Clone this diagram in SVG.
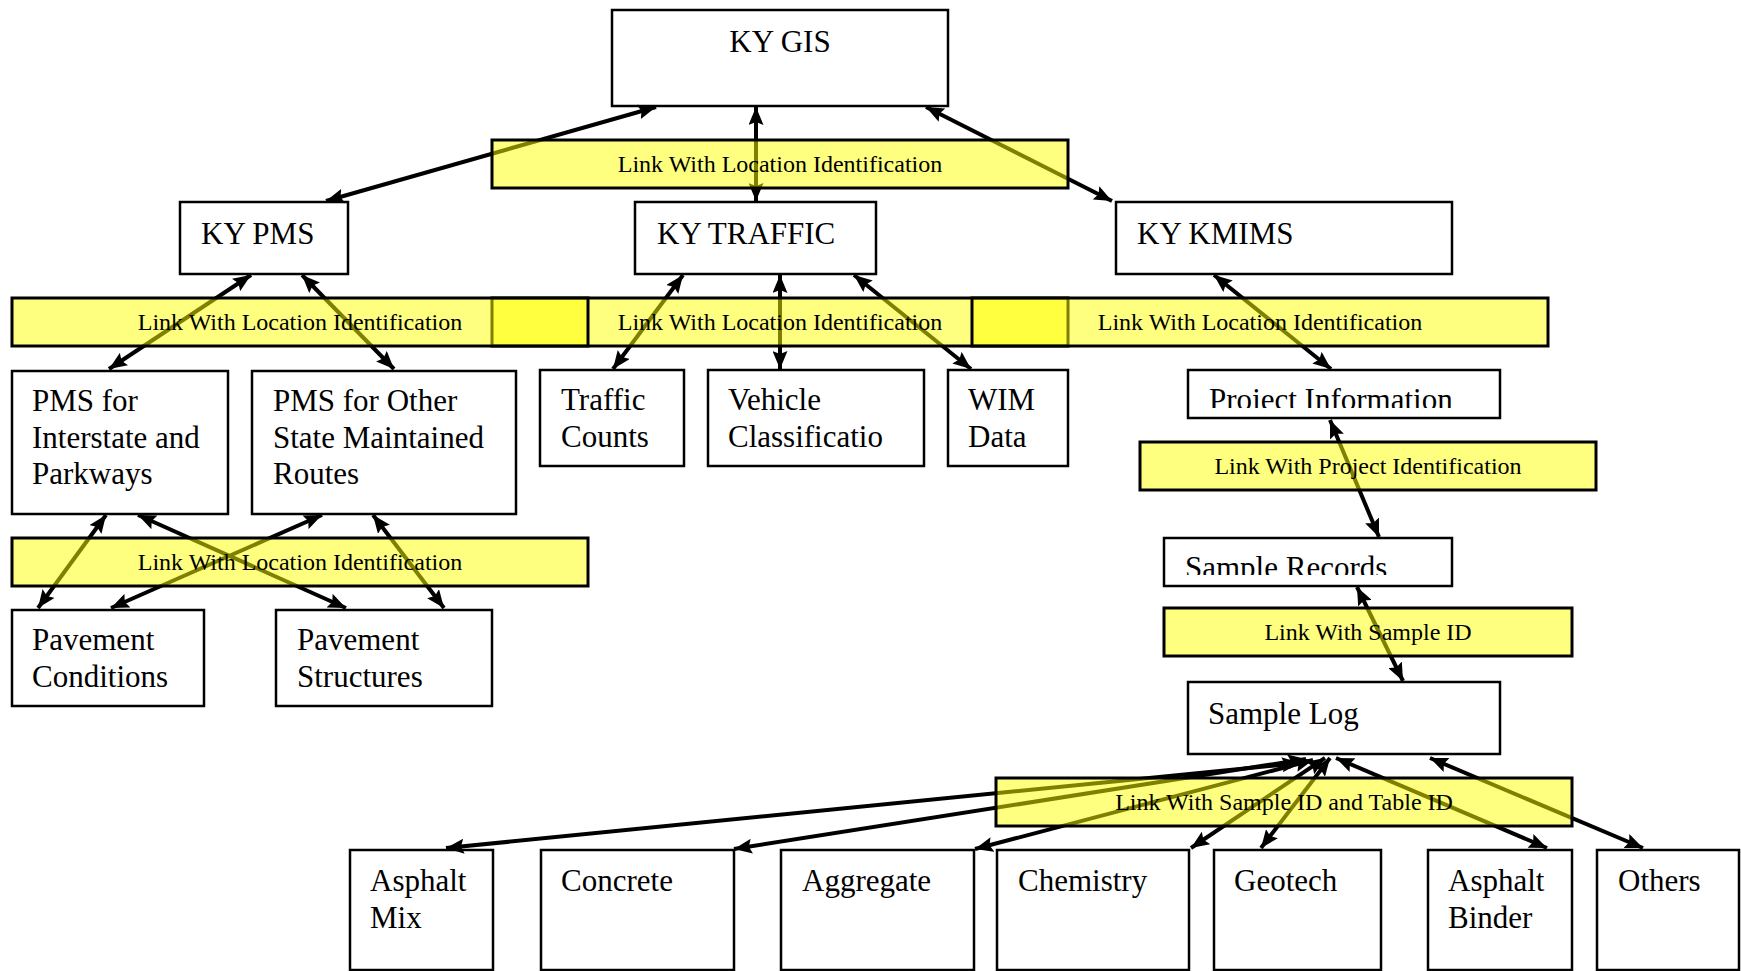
<svg xmlns="http://www.w3.org/2000/svg" width="1741" height="971" viewBox="0 0 1741 971">
<style>
.box{fill:#fff;stroke:#000;stroke-width:2.5}
.band{fill:#ffff00;fill-opacity:0.5;stroke:#000;stroke-width:3}
.t{font-family:"Liberation Serif","Times New Roman",serif;font-size:31px;fill:#000}
.bt{font-family:"Liberation Serif","Times New Roman",serif;font-size:24px;fill:#000;text-anchor:middle}
.c{fill:none;stroke:#000;stroke-width:4;marker-start:url(#ah);marker-end:url(#ah)}
</style>
<defs>
<marker id="ah" markerUnits="userSpaceOnUse" viewBox="0 0 18 15" markerWidth="18" markerHeight="15" refX="18" refY="7.5" orient="auto-start-reverse">
<path d="M0,0 L18,7.5 L0,15 L3,7.5 z" fill="#000"/>
</marker>
<clipPath id="clipPI"><rect x="1188" y="370" width="312" height="38"/></clipPath>
<clipPath id="clipSR"><rect x="1164" y="538" width="288" height="37"/></clipPath>
</defs>
<rect width="1741" height="971" fill="#fff"/>

<g id="ky-gis"><rect class="box" x="612" y="10" width="336" height="96"/><text class="t" x="780" y="52" text-anchor="middle">KY GIS</text></g>
<g id="ky-pms"><rect class="box" x="180" y="202" width="168" height="72"/><text class="t" x="201" y="244">KY PMS</text></g>
<g id="ky-traffic"><rect class="box" x="635" y="202" width="241" height="72"/><text class="t" x="657" y="244">KY TRAFFIC</text></g>
<g id="ky-kmims"><rect class="box" x="1116" y="202" width="336" height="72"/><text class="t" x="1137" y="244">KY KMIMS</text></g>

<g id="pms-interstate"><rect class="box" x="12" y="371" width="216" height="143"/><text class="t" x="32" y="411">PMS for</text><text class="t" x="32" y="448">Interstate and</text><text class="t" x="32" y="484">Parkways</text></g>
<g id="pms-other"><rect class="box" x="252" y="371" width="264" height="143"/><text class="t" x="273" y="411">PMS for Other</text><text class="t" x="273" y="448">State Maintained</text><text class="t" x="273" y="484">Routes</text></g>
<g id="traffic-counts"><rect class="box" x="540" y="370" width="144" height="96"/><text class="t" x="561" y="410">Traffic</text><text class="t" x="561" y="447">Counts</text></g>
<g id="vehicle-class"><rect class="box" x="708" y="370" width="216" height="96"/><text class="t" x="728" y="410">Vehicle</text><text class="t" x="728" y="447">Classificatio</text></g>
<g id="wim-data"><rect class="box" x="948" y="370" width="120" height="96"/><text class="t" x="968" y="410">WIM</text><text class="t" x="968" y="447">Data</text></g>

<g id="project-info"><rect class="box" x="1188" y="370" width="312" height="48"/><text class="t" x="1209" y="410" clip-path="url(#clipPI)">Project Information</text></g>
<g id="sample-records"><rect class="box" x="1164" y="538" width="288" height="48"/><text class="t" x="1185" y="578" clip-path="url(#clipSR)">Sample Records</text></g>
<g id="sample-log"><rect class="box" x="1188" y="682" width="312" height="72"/><text class="t" x="1208" y="724">Sample Log</text></g>

<g id="pavement-conditions"><rect class="box" x="12" y="610" width="192" height="96"/><text class="t" x="32" y="650">Pavement</text><text class="t" x="32" y="687">Conditions</text></g>
<g id="pavement-structures"><rect class="box" x="276" y="610" width="216" height="96"/><text class="t" x="297" y="650">Pavement</text><text class="t" x="297" y="687">Structures</text></g>

<g id="asphalt-mix"><rect class="box" x="350" y="850" width="143" height="120"/><text class="t" x="370" y="891">Asphalt</text><text class="t" x="370" y="928">Mix</text></g>
<g id="concrete"><rect class="box" x="541" y="850" width="193" height="120"/><text class="t" x="561" y="891">Concrete</text></g>
<g id="aggregate"><rect class="box" x="781" y="850" width="193" height="120"/><text class="t" x="802" y="891">Aggregate</text></g>
<g id="chemistry"><rect class="box" x="997" y="850" width="192" height="120"/><text class="t" x="1018" y="891">Chemistry</text></g>
<g id="geotech"><rect class="box" x="1214" y="850" width="167" height="120"/><text class="t" x="1234" y="891">Geotech</text></g>
<g id="asphalt-binder"><rect class="box" x="1428" y="850" width="144" height="120"/><text class="t" x="1448" y="891">Asphalt</text><text class="t" x="1448" y="928">Binder</text></g>
<g id="others"><rect class="box" x="1597" y="850" width="142" height="120"/><text class="t" x="1618" y="891">Others</text></g>

<g id="connectors">
<line class="c" x1="656" y1="107" x2="326" y2="201"/>
<line class="c" x1="756" y1="107" x2="756" y2="201"/>
<line class="c" x1="926" y1="107" x2="1112" y2="201"/>
<line class="c" x1="251" y1="275" x2="109" y2="369"/>
<line class="c" x1="302" y1="275" x2="394" y2="369"/>
<line class="c" x1="683" y1="275" x2="613" y2="369"/>
<line class="c" x1="780" y1="275" x2="780" y2="369"/>
<line class="c" x1="854" y1="275" x2="971" y2="369"/>
<line class="c" x1="1214" y1="275" x2="1331" y2="369"/>
<line class="c" x1="1330" y1="420" x2="1379" y2="537"/>
<line class="c" x1="1357" y1="587" x2="1403" y2="681"/>
<line class="c" x1="106" y1="515" x2="38" y2="608"/>
<line class="c" x1="138" y1="515" x2="346" y2="608"/>
<line class="c" x1="322" y1="515" x2="111" y2="608"/>
<line class="c" x1="373" y1="515" x2="444" y2="608"/>
<line class="c" x1="1300" y1="763" x2="446" y2="848"/>
<line class="c" x1="1306" y1="759" x2="734" y2="849"/>
<line class="c" x1="1313" y1="760" x2="975" y2="849"/>
<line class="c" x1="1325" y1="758" x2="1191" y2="848"/>
<line class="c" x1="1330" y1="758" x2="1261" y2="848"/>
<line class="c" x1="1336" y1="758" x2="1547" y2="848"/>
<line class="c" x1="1430" y1="758" x2="1643" y2="848"/>
</g>

<g id="band-top"><rect class="band" x="492" y="140" width="576" height="48"/><text class="bt" x="780" y="172">Link With Location Identification</text></g>
<g id="band-mid-b"><rect class="band" x="492" y="298" width="576" height="48"/></g>
<g id="band-mid-a"><rect class="band" x="12" y="298" width="576" height="48"/></g>
<g id="band-mid-c"><rect class="band" x="972" y="298" width="576" height="48"/></g>
<g id="band-mid-texts"><text class="bt" x="300" y="330">Link With Location Identification</text><text class="bt" x="780" y="330">Link With Location Identification</text><text class="bt" x="1260" y="330">Link With Location Identification</text></g>
<g id="band-low-left"><rect class="band" x="12" y="538" width="576" height="48"/><text class="bt" x="300" y="570">Link With Location Identification</text></g>
<g id="band-project"><rect class="band" x="1140" y="442" width="456" height="48"/><text class="bt" x="1368" y="474">Link With Project Identification</text></g>
<g id="band-sample"><rect class="band" x="1164" y="608" width="408" height="48"/><text class="bt" x="1368" y="640">Link With Sample ID</text></g>
<g id="band-table"><rect class="band" x="996" y="778" width="576" height="48"/><text class="bt" x="1284" y="810">Link With Sample ID and Table ID</text></g>
</svg>
